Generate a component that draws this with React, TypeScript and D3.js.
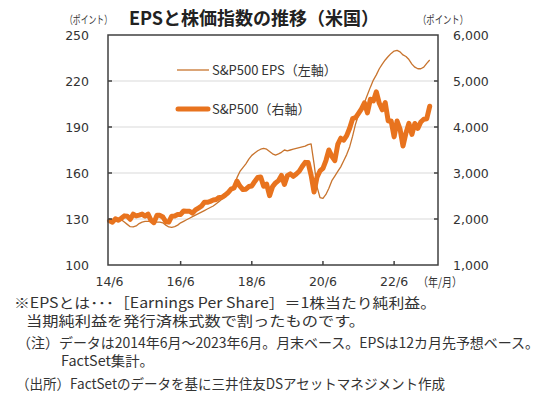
import React from "react";
import * as d3 from "d3";

const xTickLabels = ["14/6", "16/6", "18/6", "20/6", "22/6"];
const xTickIndex = [0, 24, 48, 72, 96];
const leftTicks = [100, 130, 160, 190, 220, 250];
const rightTicks = [1000, 2000, 3000, 4000, 5000, 6000];

// S&P500 month-end, 2014/6 - 2023/6 (right axis)
const sp500 = [
  1960, 1931, 2003, 1972, 2018, 2068, 2059,
  1995, 2105, 2068, 2086, 2107, 2063, 2104, 1972, 1920, 2079, 2080, 2044,
  1940, 1932, 2060, 2065, 2097, 2099, 2174, 2171, 2168, 2126, 2199, 2239,
  2279, 2364, 2363, 2384, 2412, 2423, 2470, 2472, 2519, 2575, 2648, 2674,
  2824, 2714, 2641, 2648, 2705, 2718, 2816, 2902, 2914, 2712, 2760, 2507,
  2704, 2784, 2834, 2946, 2752, 2942, 2980, 2926, 2977, 3038, 3141, 3231,
  3226, 2954, 2585, 2912, 3044, 3100, 3271, 3500, 3363, 3270, 3622, 3756,
  3714, 3811, 3973, 4181, 4204, 4298, 4395, 4523, 4308, 4605, 4567, 4766,
  4516, 4374, 4530, 4132, 4132, 3785, 4130, 3955, 3586, 3872, 4080, 3840,
  4077, 3970, 4109, 4169, 4180, 4450,
];

// S&P500 12M forward EPS, 2014/6 - 2023/6 (left axis)
const eps = [
  129, 129.5, 130, 130, 129.5, 128, 126.5,
  125, 124.8, 125.5, 127, 128, 128.5, 128.5, 128.5, 128, 128, 128, 127.5,
  126, 124.8, 124.5, 125, 126, 127.5, 128.5, 129.5, 130.5, 131.5, 132.5, 133.5,
  134.5, 135.5, 136.5, 137.5, 138.5, 140, 141.5, 143, 144.5, 146, 148, 151,
  157, 161, 163.5, 166, 169, 171.5, 173, 174.5, 175.5, 176, 175.5, 174,
  172.5, 171.7, 172.5, 173.5, 175, 174.5, 175, 175.5, 176, 176.5, 177, 177.5,
  178.5, 179, 166, 151, 144, 143.5, 146, 150, 155, 158, 161, 164,
  168, 172, 177, 184, 192, 198, 202, 206, 211, 216, 220.6, 224,
  228, 231, 233.7, 236, 238, 239.5, 240, 239, 237, 236, 234, 231,
  229, 228, 228, 229, 231.5, 233.7,
];

const footLines = [
  "※EPSとは･･･［Earnings Per Share］＝1株当たり純利益。",
  "当期純利益を発行済株式数で割ったものです。",
  "（注）データは2014年6月～2023年6月。月末ベース。EPSは12カ月先予想ベース。",
  "FactSet集計。",
  "（出所）FactSetのデータを基に三井住友DSアセットマネジメント作成",
];

const L = 108, R = 438, T = 35, B = 265;
const numFont = "'DejaVu Sans', Verdana, sans-serif";
const jpFont = "'Noto Sans CJK JP', 'Noto Sans', sans-serif";
const textColor = "#333";
const thinColor = "#C8742E";
const thickColor = "#E8731E";

export default function App() {
  const x = d3.scaleLinear().domain([-0.5, 110.8]).range([L, R]);
  const yL = d3.scaleLinear().domain([100, 250]).range([B, T]);
  const yR = d3.scaleLinear().domain([1000, 6000]).range([B, T]);
  const epsLine = d3.line<number>().x((_, i) => x(i)).y((d) => yL(d));
  const spLine = d3.line<number>().x((_, i) => x(i)).y((d) => yR(d));
  const fmt = d3.format(",");

  const footPos = [
    { x: 14, y: 308, w: 422 },
    { x: 26, y: 326, w: 339 },
    { x: 17, y: 348, w: 522 },
    { x: 61, y: 366, w: 93 },
    { x: 16, y: 389, w: 429 },
  ];

  return (
    <svg width={550} height={397} style={{ display: "block", position: "absolute", left: 0, top: 0, background: "#fff" }}>
      <rect x={0} y={0} width={550} height={397} fill="#fff" />
      {leftTicks.slice(1, -1).map((t) => (
        <line key={"g" + t} x1={L} x2={R} y1={yL(t)} y2={yL(t)} stroke="#D9D9D9" strokeWidth={1} />
      ))}
      <path d={epsLine(eps) || ""} fill="none" stroke={thinColor} strokeWidth={1.3} strokeLinejoin="round" />
      <path d={spLine(sp500) || ""} fill="none" stroke={thickColor} strokeWidth={5} strokeLinejoin="round" strokeLinecap="round" />
      <rect x={L} y={T} width={R - L} height={B - T} fill="none" stroke="#404040" strokeWidth={1.5} />
      {leftTicks.map((t) => (
        <g key={"l" + t}>
          {t !== 100 && t !== 250 && <line x1={L} x2={L + 4} y1={yL(t)} y2={yL(t)} stroke="#404040" strokeWidth={1.5} />}
          <text x={89} y={yL(t) + 4.5} textAnchor="end" fontFamily={numFont} fontSize={12.5} fill={textColor}>{t}</text>
        </g>
      ))}
      {rightTicks.map((t) => (
        <g key={"r" + t}>
          {t !== 1000 && t !== 6000 && <line x1={R - 4} x2={R} y1={yR(t)} y2={yR(t)} stroke="#404040" strokeWidth={1.5} />}
          <text x={453} y={yR(t) + 4.5} textAnchor="start" fontFamily={numFont} fontSize={12.5} fill={textColor}>{fmt(t)}</text>
        </g>
      ))}
      {xTickIndex.map((m, i) => (
        <g key={"x" + m}>
          {i > 0 && <line x1={x(m)} x2={x(m)} y1={B} y2={B - 4} stroke="#404040" strokeWidth={1.5} />}
          <text x={x(m)} y={286} textAnchor="middle" fontFamily={numFont} fontSize={12.5} fill={textColor}>{xTickLabels[i]}</text>
        </g>
      ))}
      <text x={418} y={287} fontFamily={jpFont} fontSize={12} fill={textColor} textLength={44} lengthAdjust="spacingAndGlyphs">（年/月）</text>
      <text x={65} y={24} fontFamily={jpFont} fontSize={11} fill={textColor} textLength={47} lengthAdjust="spacingAndGlyphs">（ポイント）</text>
      <text x={418} y={24} fontFamily={jpFont} fontSize={11} fill={textColor} textLength={50} lengthAdjust="spacingAndGlyphs">（ポイント）</text>
      <text x={254} y={25} textAnchor="middle" fontFamily={jpFont} fontSize={18} fontWeight="bold" fill="#222">EPSと株価指数の推移（米国）</text>
      <line x1={177} x2={209} y1={70} y2={70} stroke={thinColor} strokeWidth={1.3} />
      <text x={212} y={75} fontFamily={jpFont} fontSize={13} fill={textColor}>S&amp;P500 EPS（左軸）</text>
      <line x1={178} x2={208} y1={109} y2={109} stroke={thickColor} strokeWidth={5} strokeLinecap="round" />
      <text x={212} y={114} fontFamily={jpFont} fontSize={13} fill={textColor}>S&amp;P500（右軸）</text>
      {footLines.map((s, i) => (
        <text key={"f" + i} x={footPos[i].x} y={footPos[i].y} fontFamily={jpFont} fontSize={14} fill={textColor}
          textLength={footPos[i].w} lengthAdjust="spacingAndGlyphs">{s}</text>
      ))}
    </svg>
  );
}
